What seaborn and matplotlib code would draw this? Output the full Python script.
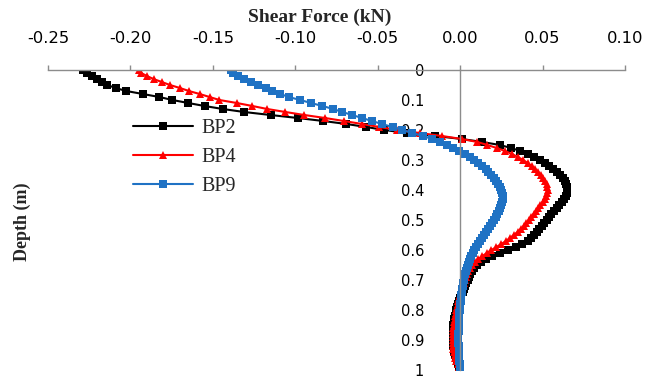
import matplotlib
matplotlib.use("Agg")
import matplotlib.pyplot as plt
from matplotlib.ticker import FixedLocator, FuncFormatter
import pandas as pd
import seaborn as sns

# Depth of each sample along the pile (m)
depth = [round(i * 0.01, 2) for i in range(101)]

# Shear force profiles (kN) at each depth
bp2 = [
    -0.2290, -0.2265, -0.2235, -0.2205, -0.2175, -0.2140, -0.2090, -0.2025, -0.1925, -0.1825,
    -0.1745, -0.1650, -0.1550, -0.1440, -0.1310, -0.1150, -0.0985, -0.0830, -0.0690, -0.0570,
    -0.0460, -0.0320, -0.0150, 0.0010, 0.0135, 0.0240, 0.0310, 0.0365, 0.0410, 0.0450,
    0.0483, 0.0513, 0.0540, 0.0565, 0.0588, 0.0607, 0.0622, 0.0634, 0.0643, 0.0648,
    0.0650, 0.0648, 0.0641, 0.0630, 0.0616, 0.0601, 0.0585, 0.0569, 0.0553, 0.0538,
    0.0524, 0.0510, 0.0496, 0.0481, 0.0466, 0.0449, 0.0431, 0.0410, 0.0377, 0.0337,
    0.0292, 0.0243, 0.0196, 0.0156, 0.0126, 0.0103, 0.0086, 0.0073, 0.0062, 0.0053,
    0.0045, 0.0037, 0.0030, 0.0022, 0.0015, 0.0008, 0.0001, -0.0006, -0.0012, -0.0018,
    -0.0023, -0.0028, -0.0032, -0.0036, -0.0039, -0.0041, -0.0043, -0.0044, -0.0045, -0.0045,
    -0.0044, -0.0043, -0.0041, -0.0038, -0.0035, -0.0031, -0.0026, -0.0020, -0.0014, -0.0007,
    0.0000,
]
bp4 = [
    -0.1950, -0.1935, -0.1900, -0.1860, -0.1810, -0.1760, -0.1700, -0.1645, -0.1580, -0.1520,
    -0.1460, -0.1355, -0.1260, -0.1170, -0.1060, -0.0945, -0.0820, -0.0705, -0.0595, -0.0490,
    -0.0380, -0.0245, -0.0110, 0.0010, 0.0105, 0.0165, 0.0222, 0.0272, 0.0314, 0.0350,
    0.0382, 0.0410, 0.0433, 0.0455, 0.0474, 0.0491, 0.0505, 0.0516, 0.0524, 0.0529,
    0.0531, 0.0529, 0.0523, 0.0513, 0.0500, 0.0487, 0.0473, 0.0460, 0.0445, 0.0430,
    0.0418, 0.0402, 0.0386, 0.0368, 0.0348, 0.0325, 0.0302, 0.0278, 0.0250, 0.0220,
    0.0190, 0.0162, 0.0135, 0.0110, 0.0090, 0.0074, 0.0060, 0.0050, 0.0041, 0.0034,
    0.0027, 0.0021, 0.0015, 0.0009, 0.0004, -0.0001, -0.0006, -0.0010, -0.0015, -0.0019,
    -0.0023, -0.0027, -0.0031, -0.0034, -0.0037, -0.0039, -0.0041, -0.0043, -0.0044, -0.0045,
    -0.0045, -0.0044, -0.0043, -0.0041, -0.0038, -0.0034, -0.0029, -0.0023, -0.0016, -0.0008,
    0.0000,
]
bp9 = [
    -0.1390, -0.1375, -0.1345, -0.1310, -0.1270, -0.1225, -0.1180, -0.1140, -0.1090, -0.1040,
    -0.0970, -0.0905, -0.0835, -0.0770, -0.0715, -0.0655, -0.0595, -0.0535, -0.0475, -0.0410,
    -0.0350, -0.0290, -0.0225, -0.0170, -0.0122, -0.0080, -0.0042, -0.0005, 0.0030, 0.0058,
    0.0085, 0.0110, 0.0133, 0.0154, 0.0172, 0.0189, 0.0204, 0.0218, 0.0230, 0.0240,
    0.0249, 0.0255, 0.0257, 0.0257, 0.0254, 0.0249, 0.0243, 0.0235, 0.0226, 0.0216,
    0.0206, 0.0195, 0.0183, 0.0171, 0.0159, 0.0146, 0.0133, 0.0120, 0.0107, 0.0095,
    0.0085, 0.0075, 0.0066, 0.0058, 0.0051, 0.0045, 0.0039, 0.0034, 0.0030, 0.0026,
    0.0022, 0.0019, 0.0016, 0.0013, 0.0010, 0.0008, 0.0005, 0.0003, 0.0001, -0.0001,
    -0.0002, -0.0004, -0.0005, -0.0006, -0.0007, -0.0008, -0.0009, -0.0009, -0.0010, -0.0010,
    -0.0010, -0.0010, -0.0009, -0.0009, -0.0008, -0.0007, -0.0005, -0.0004, -0.0002, -0.0001,
    0.0000,
]

series_names = ["BP2", "BP4", "BP9"]
x_ticks = [-0.25, -0.20, -0.15, -0.10, -0.05, 0.00, 0.05, 0.10]
y_ticks = [0, 0.1, 0.2, 0.3, 0.4, 0.5, 0.6, 0.7, 0.8, 0.9, 1]

df = pd.concat(
    [
        pd.DataFrame({"depth": depth, "force": vals, "series": name})
        for name, vals in zip(series_names, [bp2, bp4, bp9])
    ],
    ignore_index=True,
)

sns.set_style("white")
plt.rcParams["font.family"] = ["DejaVu Sans"]
plt.rcParams["axes.unicode_minus"] = False

fig = plt.figure(figsize=(6.5, 3.81), dpi=100)
ax = fig.add_axes([48 / 650, 1 - 370 / 381, 577 / 650, 300 / 381])

palette = {"BP2": "#000000", "BP4": "#ff0000", "BP9": "#1f72c4"}
markers = {"BP2": "s", "BP4": "^", "BP9": "s"}

sns.lineplot(
    data=df, x="force", y="depth", hue="series", style="series",
    palette=palette, markers=markers, dashes=False, sort=False,
    estimator=None, linewidth=1.5, markersize=5.3, markeredgewidth=0,
    ax=ax,
)

ax.set_xlim(-0.25, 0.10)
ax.set_ylim(1.0, 0.0)

axis_grey = "#8c8c8c"
for side in ("bottom", "right"):
    ax.spines[side].set_visible(False)
ax.spines["top"].set_color(axis_grey)
ax.spines["left"].set_color(axis_grey)
ax.spines["left"].set_position(("data", 0.0))
ax.spines["top"].set_linewidth(1.0)
ax.spines["left"].set_linewidth(1.0)

ax.xaxis.tick_top()
ax.xaxis.set_major_locator(FixedLocator(x_ticks))
ax.xaxis.set_major_formatter(FuncFormatter(lambda v, p: f"{v:.2f}"))
ax.yaxis.set_major_locator(FixedLocator(y_ticks))
ax.yaxis.set_major_formatter(FuncFormatter(lambda v, p: f"{v:g}"))
ax.tick_params(axis="x", which="major", direction="out", length=3.5, width=1,
               color=axis_grey, pad=13.5, labelsize=11.8, labelcolor="black")
ax.tick_params(axis="y", which="major", direction="out", length=6, width=1,
               color=axis_grey, pad=20, labelsize=10.5, labelcolor="black")

serif_bold = {"family": "Liberation Serif", "weight": "bold", "size": 14}
ax.xaxis.set_label_position("top")
ax.set_xlabel("Shear Force (kN)", fontdict=serif_bold)
ax.xaxis.set_label_coords((320 - 48) / 577, 1 + (70 - 17) / 300)
ax.xaxis.label.set_verticalalignment("center")
ax.set_ylabel("Depth (m)", fontdict={**serif_bold, "size": 13})
ax.yaxis.set_label_coords((22 - 48) / 577, 1 - (222 - 70) / 300)
ax.yaxis.label.set_verticalalignment("center")

handles, labels = ax.get_legend_handles_labels()
leg = ax.legend(
    handles, labels, loc="upper left",
    bbox_to_anchor=((125 - 48) / 577, 1 - (111 - 70) / 300),
    frameon=False, handlelength=3.0, handletextpad=0.4, labelspacing=0.5,
    borderaxespad=0, prop={"family": "Liberation Serif", "size": 14.5},
)

fig.savefig("out.png", dpi=100)
